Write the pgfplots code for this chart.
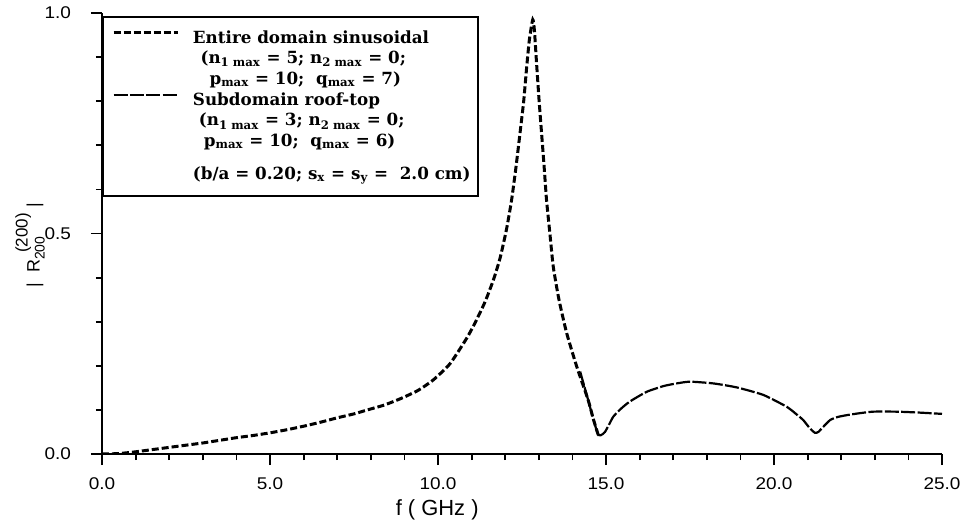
\documentclass[border=0pt]{standalone}
\usepackage{fontspec}
\setmainfont{DejaVu Serif}
\newfontfamily\legfont{DejaVu Serif}
\newfontfamily\sansf{Liberation Sans}
\newfontfamily\tickf[FakeStretch=1.12]{Liberation Sans}
\usepackage{pgfplots}
\pgfplotsset{compat=1.18}
\newcommand{\legtext}{\fontsize{8.4}{10.3}\selectfont\lineskiplimit=-\maxdimen}
\pgfplotsset{
  legA/.style={legend image code/.code={\draw[##1] (0bp,25.6bp) -- (32bp,25.6bp);}},
  legB/.style={legend image code/.code={\draw[##1] (0bp,42.4bp) -- (32bp,42.4bp);}},
}

\begin{document}
\begin{tikzpicture}
\useasboundingbox (-51bp,-35.5bp) rectangle (431.5bp,227bp);
\begin{axis}[
  scale only axis, width=420bp, height=220.5bp,
  xmin=0, xmax=25, ymin=0, ymax=1,
  axis x line*=bottom, axis y line*=left,
  axis line style={line width=1.1bp, black},
  xtick={0,5,10,15,20,25}, ytick={0,0.5,1},
  minor x tick num=4, minor y tick num=4,
  tick align=outside,
  major tick length=5.5bp, minor tick length=3bp,
  every tick/.style={line width=0.9bp, black},
  xticklabel style={font=\tickf\fontsize{8.5}{8.5}\selectfont, yshift=-3bp},
  yticklabel style={font=\tickf\fontsize{8.5}{8.5}\selectfont, xshift=-6.5bp},
  xticklabel={\pgfmathprintnumber[fixed, fixed zerofill, precision=1, assume math mode=true]{\tick}},
  yticklabel={\pgfmathprintnumber[fixed, fixed zerofill, precision=1, assume math mode=true]{\tick}},
  xlabel={\sansf\fontsize{11}{11}\selectfont f ( GHz )},
  xlabel style={at={(axis description cs:0.399,-0.127)}, anchor=center},
  ylabel={\sansf\fontsize{9}{9}\selectfont |\hspace{5bp}R\rlap{\raisebox{-2.5bp}{\fontsize{7}{7}\selectfont 200}}\hspace{3.5bp}\raisebox{6bp}{\fontsize{8.5}{8.5}\selectfont (200)}\hspace{3bp}|},
  ylabel style={at={(axis description cs:-0.0857,0.474)}, anchor=center, rotate=0},
  legend style={at={(rel axis cs:0,1)}, anchor=north west, yshift=-1.5bp,
    draw=black, line width=1bp, fill=white,
    inner xsep=4.5bp, inner ysep=4.7bp, row sep=-1.25bp,
    cells={anchor=base west},
    /tikz/every odd column/.append style={column sep=5bp},
    /tikz/every even column/.append style={column sep=0bp},
    font=\legfont\bfseries\legtext},
]
\addplot[black, line width=1.5bp, dash pattern=on 3.5bp off 1.5bp, smooth, tension=0.35, legA] coordinates {
(0,0) (0.5,0.001) (1,0.005) (1.5,0.01) (2,0.015) (2.5,0.02) (3,0.025) (3.5,0.031)
(4,0.037) (4.5,0.042) (5,0.048) (5.5,0.055) (6,0.063) (6.5,0.072) (7,0.082) (7.5,0.091)
(7.9,0.1) (8.4,0.111) (8.9,0.126) (9.4,0.144) (9.86,0.168) (10.36,0.205) (10.85,0.262)
(11.1,0.297) (11.4,0.345) (11.65,0.395) (11.85,0.445) (12.04,0.51) (12.19,0.576)
(12.32,0.65) (12.44,0.727) (12.55,0.80) (12.64,0.878) (12.72,0.94) (12.82,0.985)
(12.87,0.96) (12.93,0.89) (13.01,0.80) (13.09,0.72) (13.16,0.65) (13.23,0.576)
(13.33,0.50) (13.43,0.425) (13.6,0.35) (13.83,0.274) (14.13,0.198) (14.47,0.122)
(14.62,0.08) (14.77,0.043)
};
\addlegendentry{\parbox[b]{136bp}{\legtext
Entire domain sinusoidal\\
\hspace*{3.8bp}(n\textsubscript{1 max} = 5; n\textsubscript{2 max} = 0;\\
\hspace*{8.3bp}p\textsubscript{max} = 10;\ \ q\textsubscript{max} = 7)}}
\addplot[black, line width=1.1bp, dash pattern=on 7bp off 1.2bp, smooth, tension=0.35, legB] coordinates {
(14.23,0.187) (14.47,0.122) (14.62,0.08) (14.77,0.043) (14.9,0.045) (14.97,0.05)
(15.1,0.068) (15.22,0.085) (15.45,0.103) (15.71,0.119) (16.21,0.141) (16.71,0.154)
(17.1,0.16) (17.5,0.164) (18.2,0.160) (18.89,0.151) (19.68,0.134) (20.38,0.107)
(20.7,0.088) (20.87,0.077) (21.07,0.058) (21.22,0.048) (21.32,0.05) (21.42,0.058)
(21.67,0.077) (21.9,0.084) (22.16,0.088) (22.5,0.092) (22.95,0.096) (23.65,0.096)
(24.3,0.094) (25,0.091)
};
\addlegendentry{\parbox[b]{136bp}{\legtext
Subdomain roof-top\\
\hspace*{3bp}(n\textsubscript{1 max} = 3; n\textsubscript{2 max} = 0;\\
\hspace*{5.5bp}p\textsubscript{max} = 10;\ \ q\textsubscript{max} = 6)\\[6.5bp]
\mbox{(b/a = 0.20; s\textsubscript{x} = s\textsubscript{y} = \ 2.0 cm)}}}
\end{axis}
\end{tikzpicture}
\end{document}
